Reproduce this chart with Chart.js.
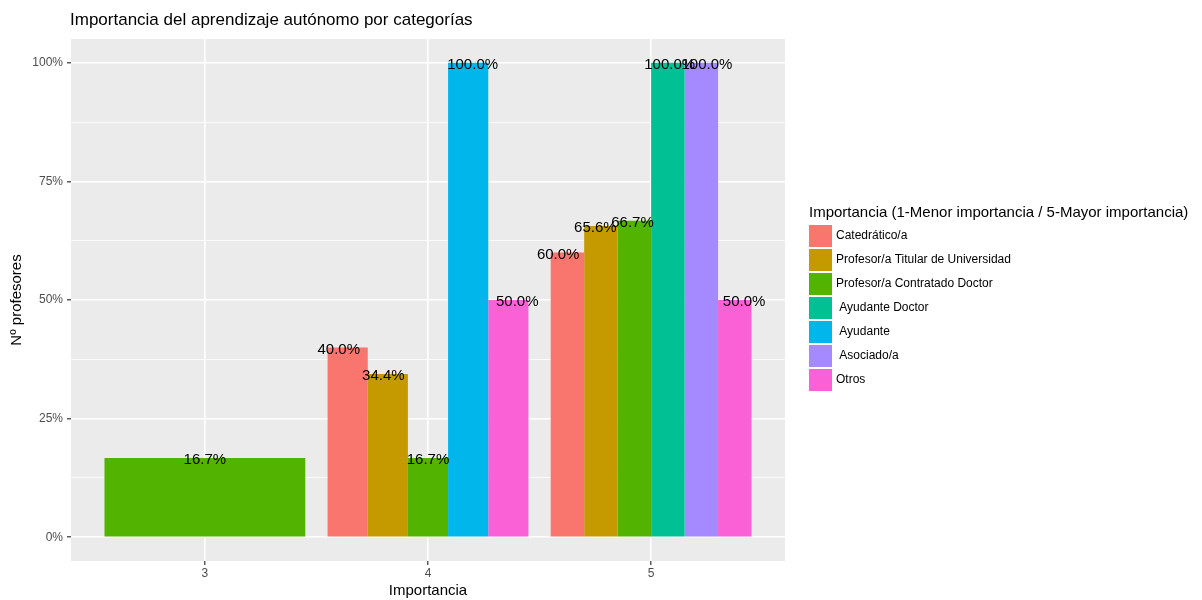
<!DOCTYPE html>
<html lang="es">
<head>
<meta charset="utf-8">
<title>Importancia del aprendizaje autónomo por categorías</title>
<script src="https://cdn.jsdelivr.net/npm/chart.js@4.4.1/dist/chart.umd.min.js"></script>
<style>
  html, body { margin: 0; padding: 0; background: #ffffff; }
  #contenedor { width: 1202px; height: 600px; }
</style>
</head>
<body>
<div id="contenedor"><canvas id="grafico" width="1202" height="600"></canvas></div>
<script>
// =============================================
//      DATOS: % DE PROFESORES POR IMPORTANCIA
// =============================================
const importancias = [3, 4, 5];

const catedratico   = [null, 40.0, 60.0];
const titular       = [null, 34.4, 65.6];
const contratado    = [16.7, 16.7, 66.7];
const ayudanteDoc   = [null, null, 100.0];
const ayudante      = [null, 100.0, null];
const asociado      = [null, null, 100.0];
const otros         = [null, 50.0, 50.0];

const ticksY = [0, 12.5, 25, 37.5, 50, 62.5, 75, 87.5, 100];

const titulo = 'Importancia del aprendizaje autónomo por categorías';
const tituloLeyenda = 'Importancia (1-Menor importancia / 5-Mayor importancia)';

const FUENTE = '"Liberation Sans", Arial, Helvetica, sans-serif';

/////////////////**CONVIERTE UNA SERIE EN PUNTOS {x, y}*/////////////////
function aPuntos(valores) {
    return valores.map((v, i) => ({ x: importancias[i], y: v }));
}

function serie(etiqueta, valores, color) {
    return {
        label: etiqueta,
        data: aPuntos(valores),
        backgroundColor: color,
        borderWidth: 0,
        barPercentage: 1,
        categoryPercentage: 0.9
    };
}

const datasets = [
    serie('Catedrático/a', catedratico, '#F8766D'),
    serie('Profesor/a Titular de Universidad', titular, '#C49A00'),
    serie('Profesor/a Contratado Doctor', contratado, '#53B400'),
    serie(' Ayudante Doctor', ayudanteDoc, '#00C094'),
    serie(' Ayudante', ayudante, '#00B6EB'),
    serie(' Asociado/a', asociado, '#A58AFF'),
    serie('Otros', otros, '#FB61D7')
];

/////////////////**FONDO GRIS DEL PANEL (estilo ggplot)*/////////////////
const fondoPanel = {
    id: 'fondoPanel',
    beforeDraw(chart) {
        const { ctx, chartArea: a } = chart;
        ctx.save();
        ctx.fillStyle = '#ffffff';
        ctx.fillRect(0, 0, chart.width, chart.height);
        ctx.fillStyle = '#EBEBEB';
        ctx.fillRect(a.left, a.top, a.right - a.left, a.bottom - a.top);
        ctx.restore();
    }
};

/////////////////**ETIQUETAS DE PORCENTAJE SOBRE LAS BARRAS*/////////////////
const etiquetasBarras = {
    id: 'etiquetasBarras',
    afterDatasetsDraw(chart) {
        const { ctx, scales } = chart;
        const dsets = chart.data.datasets;
        ctx.save();
        ctx.font = '15px ' + FUENTE;
        ctx.fillStyle = '#000000';
        ctx.textAlign = 'center';
        ctx.textBaseline = 'middle';
        importancias.forEach((cat, i) => {
            const presentes = dsets.filter(d => d.data[i].y !== null);
            const n = presentes.length;
            presentes.forEach((d, k) => {
                const v = d.data[i].y;
                const x = scales.x.getPixelForValue(cat - 0.5 + (k + 0.5) / n);
                const y = scales.y.getPixelForValue(v);
                ctx.fillText(v.toFixed(1) + '%', x, y + 2);
            });
        });
        ctx.restore();
    }
};

/////////////////**TÍTULO Y LEYENDA PERSONALIZADOS*/////////////////
const tituloYLeyenda = {
    id: 'tituloYLeyenda',
    afterDraw(chart) {
        const { ctx, chartArea: a } = chart;
        ctx.save();
        ctx.fillStyle = '#000000';
        ctx.textAlign = 'left';
        ctx.textBaseline = 'alphabetic';
        ctx.font = '17px ' + FUENTE;
        ctx.fillText(titulo, a.left - 1, 25);

        // leyenda a la derecha del panel
        const x0 = a.right + 24;
        const y0 = 225;
        const paso = 24;
        ctx.font = '15px ' + FUENTE;
        ctx.textBaseline = 'middle';
        ctx.fillText(tituloLeyenda, x0, 213);
        ctx.font = '12px ' + FUENTE;
        chart.data.datasets.forEach((d, i) => {
            const y = y0 + i * paso;
            ctx.fillStyle = d.backgroundColor;
            ctx.fillRect(x0, y, 23, 22);
            ctx.fillStyle = '#000000';
            ctx.fillText(d.label, x0 + 27, y + 11);
        });
        ctx.restore();
    }
};

const esMayor = v => v % 25 === 0;

new Chart(document.getElementById('grafico').getContext('2d'), {
    type: 'bar',
    data: { datasets: datasets },
    options: {
        responsive: false,
        animation: false,
        layout: { padding: { top: 39, right: 417, left: 0, bottom: 0 } },
        datasets: { bar: { skipNull: true } },
        plugins: {
            legend: { display: false },
            title: { display: false },
            tooltip: { enabled: false }
        },
        scales: {
            x: {
                type: 'linear',
                min: 2.4,
                max: 5.6,
                offset: false,
                afterBuildTicks: s => { s.ticks = importancias.map(v => ({ value: v })); },
                afterFit: s => { s.height = 39; },
                border: { display: false },
                grid: { offset: false, color: '#ffffff', lineWidth: 1.6, tickColor: '#333333', tickLength: 4, tickWidth: 1.2 },
                ticks: {
                    color: '#4D4D4D',
                    font: { family: FUENTE, size: 12 },
                    padding: 1,
                    maxRotation: 0,
                    callback: v => String(v)
                },
                title: {
                    display: true,
                    text: 'Importancia',
                    color: '#000000',
                    font: { family: FUENTE, size: 15 },
                    padding: { top: 0, bottom: 0 }
                }
            },
            y: {
                min: -5,
                max: 105,
                afterBuildTicks: s => { s.ticks = ticksY.map(v => ({ value: v })); },
                afterFit: s => { s.width = 71; },
                border: { display: false },
                grid: {
                    color: '#ffffff',
                    lineWidth: c => esMayor(c.tick.value) ? 1.6 : 0.8,
                    tickColor: c => esMayor(c.tick.value) ? '#333333' : 'rgba(0,0,0,0)',
                    tickLength: 4,
                    tickWidth: 1.2
                },
                ticks: {
                    color: '#4D4D4D',
                    font: { family: FUENTE, size: 12 },
                    padding: 4,
                    callback: v => esMayor(v) ? v + '%' : ''
                },
                title: {
                    display: true,
                    text: 'Nº profesores',
                    color: '#000000',
                    font: { family: FUENTE, size: 15 },
                    padding: { top: 8, bottom: 0 }
                }
            }
        }
    },
    plugins: [fondoPanel, etiquetasBarras, tituloYLeyenda]
});
</script>
</body>
</html>
